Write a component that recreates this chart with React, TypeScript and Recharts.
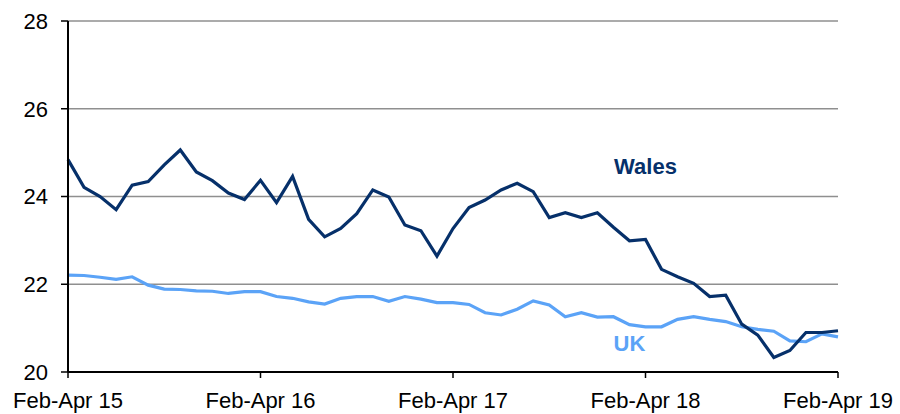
import React from "react";
import {
  LineChart,
  Line,
  XAxis,
  YAxis,
  CartesianGrid,
  ReferenceDot,
} from "recharts";

// Rolling three-month periods, Feb-Apr 2015 to Feb-Apr 2019
const periods = [
  "Feb-Apr 15", "Mar-May 15", "Apr-Jun 15", "May-Jul 15", "Jun-Aug 15", "Jul-Sep 15",
  "Aug-Oct 15", "Sep-Nov 15", "Oct-Dec 15", "Nov-Jan 16", "Dec-Feb 16", "Jan-Mar 16",
  "Feb-Apr 16", "Mar-May 16", "Apr-Jun 16", "May-Jul 16", "Jun-Aug 16", "Jul-Sep 16",
  "Aug-Oct 16", "Sep-Nov 16", "Oct-Dec 16", "Nov-Jan 17", "Dec-Feb 17", "Jan-Mar 17",
  "Feb-Apr 17", "Mar-May 17", "Apr-Jun 17", "May-Jul 17", "Jun-Aug 17", "Jul-Sep 17",
  "Aug-Oct 17", "Sep-Nov 17", "Oct-Dec 17", "Nov-Jan 18", "Dec-Feb 18", "Jan-Mar 18",
  "Feb-Apr 18", "Mar-May 18", "Apr-Jun 18", "May-Jul 18", "Jun-Aug 18", "Jul-Sep 18",
  "Aug-Oct 18", "Sep-Nov 18", "Oct-Dec 18", "Nov-Jan 19", "Dec-Feb 19", "Jan-Mar 19",
  "Feb-Apr 19",
];

const walesValues = [
  24.84, 24.21, 24.0, 23.7, 24.26, 24.34, 24.72, 25.06, 24.56, 24.36, 24.08, 23.93,
  24.37, 23.86, 24.46, 23.48, 23.08, 23.27, 23.61, 24.15, 23.99, 23.35, 23.22, 22.64,
  23.27, 23.75, 23.92, 24.15, 24.3, 24.11, 23.52, 23.63, 23.52, 23.63, 23.3, 22.99,
  23.02, 22.34, 22.17, 22.02, 21.72, 21.75, 21.09, 20.84, 20.33, 20.49, 20.9, 20.9,
  20.94,
];

const ukValues = [
  22.21, 22.2, 22.16, 22.11, 22.17, 21.98, 21.89, 21.88, 21.85, 21.84, 21.79, 21.83,
  21.83, 21.72, 21.68, 21.6, 21.55, 21.68, 21.72, 21.72, 21.61, 21.72, 21.66, 21.58,
  21.58, 21.54, 21.35, 21.3, 21.43, 21.62, 21.53, 21.26, 21.35, 21.25, 21.26, 21.08,
  21.03, 21.03, 21.2, 21.26, 21.2, 21.15, 21.03, 20.97, 20.93, 20.71, 20.69, 20.87,
  20.8,
];

const yTicks = [20, 22, 24, 26, 28];

const WALES_COLOR = "#06306a";
const UK_COLOR = "#5ba3f7";

const data = periods.map((period, i) => ({
  period,
  wales: walesValues[i],
  uk: ukValues[i],
}));

const tickStyle = { fontSize: 22, fill: "#000" };

export default function App() {
  return (
    <div
      style={{
        position: "absolute",
        left: 0,
        top: 0,
        width: 900,
        height: 414,
        background: "#fff",
        fontFamily: "'Liberation Sans', Arial, sans-serif",
      }}
    >
      <LineChart
        width={900}
        height={414}
        data={data}
        margin={{ top: 21, right: 62, left: 0, bottom: 0 }}
      >
        <CartesianGrid vertical={false} stroke="#8f8f8f" strokeWidth={1.5} />
        <XAxis
          dataKey="period"
          interval={11}
          height={42}
          tick={tickStyle}
          tickSize={6}
          tickMargin={14}
          axisLine={{ stroke: "#000", strokeWidth: 2 }}
          tickLine={{ stroke: "#000", strokeWidth: 1.5 }}
        />
        <YAxis
          domain={[20, 28]}
          ticks={yTicks}
          width={68}
          tick={tickStyle}
          tickSize={7}
          tickMargin={13}
          axisLine={{ stroke: "#000", strokeWidth: 2 }}
          tickLine={{ stroke: "#000", strokeWidth: 1.5 }}
        />
        <Line
          dataKey="uk"
          stroke={UK_COLOR}
          strokeWidth={3.2}
          dot={false}
          isAnimationActive={false}
        />
        <Line
          dataKey="wales"
          stroke={WALES_COLOR}
          strokeWidth={3.2}
          dot={false}
          isAnimationActive={false}
        />
        <ReferenceDot
          x="Feb-Apr 18"
          y={24.69}
          r={0}
          label={{
            value: "Wales",
            position: "center",
            fill: WALES_COLOR,
            fontSize: 22,
            fontWeight: "bold",
          }}
        />
        <ReferenceDot
          x="Jan-Mar 18"
          y={20.65}
          r={0}
          label={{
            value: "UK",
            position: "center",
            fill: UK_COLOR,
            fontSize: 22,
            fontWeight: "bold",
          }}
        />
      </LineChart>
    </div>
  );
}
